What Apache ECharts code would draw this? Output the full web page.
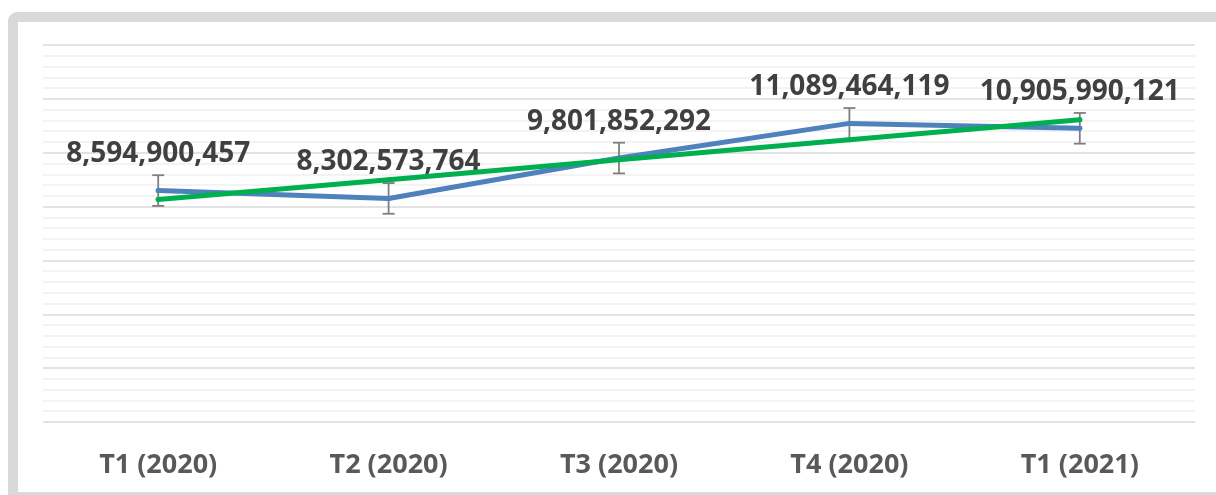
<!DOCTYPE html>
<html>
<head>
<meta charset="utf-8">
<script src="https://cdn.jsdelivr.net/npm/echarts@6/dist/echarts.min.js"></script>
<style>
html,body{margin:0;padding:0;background:#fff;}
#chart{width:1216px;height:495px;}
</style>
</head>
<body>
<div id="chart"></div>
<script>
var categories = ['T1 (2020)', 'T2 (2020)', 'T3 (2020)', 'T4 (2020)', 'T1 (2021)'];
var values = [8594900457, 8302573764, 9801852292, 11089464119, 10905990121];
var trendValues = [8.26e9, 9.00e9, 9.74e9, 10.48e9, 11.22e9];
var errorMargins = [0.57e9, 0.57e9, 0.57e9, 0.57e9, 0.57e9];
var yTicks = [0, 2e9, 4e9, 6e9, 8e9, 10e9, 12e9, 14e9];

function fmt(n){ return String(n).replace(/\B(?=(\d{3})+(?!\d))/g, ','); }

var errData = values.map(function(v, i){ return [i, v - errorMargins[i], v + errorMargins[i]]; });

var chart = echarts.init(document.getElementById('chart'));
chart.setOption({
  animation: false,
  backgroundColor: '#ffffff',
  graphic: [{
    type: 'rect',
    shape: {x: 13, y: 17, width: 1400, height: 480, r: 4},
    style: {fill: 'none', stroke: '#d9d9d9', lineWidth: 10},
    silent: true,
    z: -10
  }],
  grid: {left: 43, right: 21, top: 45, bottom: 73},
  xAxis: {
    type: 'category',
    data: categories,
    boundaryGap: true,
    axisLine: {show: false},
    axisTick: {show: false},
    axisLabel: {
      margin: 30,
      color: '#595959',
      fontFamily: 'Open Sans',
      fontWeight: 'bold',
      fontSize: 27
    }
  },
  yAxis: {
    type: 'value',
    min: yTicks[0],
    max: yTicks[yTicks.length - 1],
    interval: yTicks[1] - yTicks[0],
    axisLabel: {show: false},
    axisLine: {show: false},
    axisTick: {show: false},
    splitLine: {lineStyle: {color: '#d9d9d9', width: 1.5}},
    minorTick: {show: false, splitNumber: 5},
    minorSplitLine: {show: true, lineStyle: {color: '#f0f0f0', width: 1.5}}
  },
  series: [
    {
      type: 'custom',
      z: 1,
      data: errData,
      renderItem: function(params, api){
        var x = api.coord([api.value(0), api.value(1)])[0];
        var yLo = api.coord([api.value(0), api.value(1)])[1];
        var yHi = api.coord([api.value(0), api.value(2)])[1];
        var hw = 6;
        var st = {stroke: '#7f7f7f', lineWidth: 1.8};
        return {
          type: 'group',
          children: [
            {type: 'line', shape: {x1: x, y1: yLo, x2: x, y2: yHi}, style: st},
            {type: 'line', shape: {x1: x - hw, y1: yLo, x2: x + hw, y2: yLo}, style: st},
            {type: 'line', shape: {x1: x - hw, y1: yHi, x2: x + hw, y2: yHi}, style: st}
          ]
        };
      }
    },
    {
      type: 'line',
      z: 2,
      data: values,
      symbol: 'circle',
      symbolSize: 5,
      showSymbol: true,
      lineStyle: {color: '#4f81bd', width: 5, cap: 'round', join: 'round'},
      itemStyle: {color: '#4f81bd', borderWidth: 0},
      label: {
        show: true,
        position: 'top',
        distance: 20,
        color: '#404040',
        fontFamily: 'Open Sans',
        fontWeight: 'bold',
        fontSize: 28,
        formatter: function(p){ return fmt(p.value); }
      },
      labelLayout: {hideOverlap: false}
    },
    {
      type: 'line',
      z: 3,
      data: trendValues,
      symbol: 'circle',
      symbolSize: 5,
      lineStyle: {color: '#00b050', width: 5, cap: 'round', join: 'round'},
      itemStyle: {color: '#00b050', borderWidth: 0}
    }
  ]
});
</script>
</body>
</html>
